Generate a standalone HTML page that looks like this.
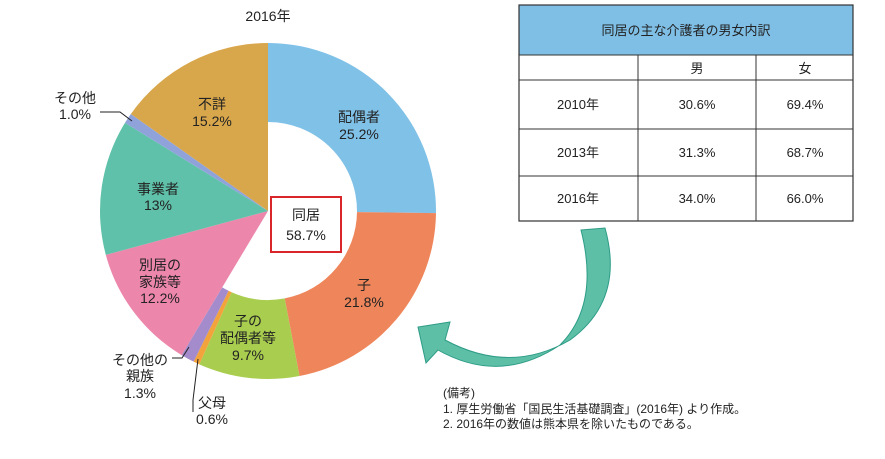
<!DOCTYPE html>
<html><head><meta charset="utf-8"><style>
body{margin:0;width:885px;height:459px;background:#fff;font-family:"Liberation Sans","Noto Sans CJK JP",sans-serif;overflow:hidden;position:relative}
.t{position:absolute;color:#222}
</style></head><body>
<svg width="885" height="459" style="position:absolute;left:0;top:0">
<g id="pie"></g>
<text x="268" y="21" font-size="14" text-anchor="middle" fill="#222">2016年</text>
<rect x="271" y="197" width="70" height="55" fill="#fff" stroke="#d9262b" stroke-width="2"/>
<text x="306" y="220" font-size="14" text-anchor="middle" fill="#222">同居</text>
<text x="306" y="240" font-size="14" text-anchor="middle" fill="#222">58.7%</text>
<g font-size="14" text-anchor="middle" fill="#222">
<text x="359" y="122">配偶者</text><text x="359" y="139">25.2%</text>
<text x="364" y="290">子</text><text x="364" y="307">21.8%</text>
<text x="248" y="326">子の</text><text x="248" y="343">配偶者等</text><text x="248" y="360">9.7%</text>
<text x="160" y="270">別居の</text><text x="160" y="287">家族等</text><text x="160" y="303">12.2%</text>
<text x="158" y="194">事業者</text><text x="158" y="210">13%</text>
<text x="212" y="109">不詳</text><text x="212" y="126">15.2%</text>
<text x="75" y="103">その他</text><text x="75" y="119">1.0%</text>
<text x="140" y="365">その他の</text><text x="140" y="381">親族</text><text x="140" y="398">1.3%</text>
<text x="212" y="408">父母</text><text x="212" y="424">0.6%</text>
</g>
<g fill="none" stroke="#222" stroke-width="1">
<path d="M100 112 L120 112 L132 121"/>
<path d="M172 358 L182 358 L189 347"/>
<path d="M193 412 L193 400 L198 359"/>
</g>
<path d="M581 230 L605 228 Q625 300 570 340 Q510 375 445 340 L450 322 L418 327 L426 363 L438 350 Q500 385 560 345 Q600 305 581 230 Z" fill="#5dbfa5" stroke="#2e9c88" stroke-width="1"/>
<g font-size="13" fill="#222" text-anchor="middle">
<rect x="519" y="5" width="334" height="50" fill="#7fbfe6"/>
<rect x="519" y="5" width="334" height="216" fill="none" stroke="#333" stroke-width="1.2"/>
<line x1="519" y1="55" x2="853" y2="55" stroke="#333"/>
<line x1="519" y1="80" x2="853" y2="80" stroke="#333"/>
<line x1="519" y1="129" x2="853" y2="129" stroke="#333"/>
<line x1="519" y1="176" x2="853" y2="176" stroke="#333"/>
<line x1="638" y1="55" x2="638" y2="221" stroke="#333"/>
<line x1="756" y1="55" x2="756" y2="221" stroke="#333"/>
<text x="686" y="35">同居の主な介護者の男女内訳</text>
<text x="697" y="73">男</text><text x="805" y="73">女</text>
<text x="578" y="109">2010年</text><text x="697" y="109">30.6%</text><text x="805" y="109">69.4%</text>
<text x="578" y="157">2013年</text><text x="697" y="157">31.3%</text><text x="805" y="157">68.7%</text>
<text x="578" y="203">2016年</text><text x="697" y="203">34.0%</text><text x="805" y="203">66.0%</text>
</g>
<g font-size="12" fill="#222">
<text x="443" y="397">(備考)</text>
<text x="443" y="413">1. 厚生労働省「国民生活基礎調査」(2016年) より作成。</text>
<text x="443" y="428">2. 2016年の数値は熊本県を除いたものである。</text>
</g>
</svg>
<script>
const categories=["配偶者","子","子の配偶者等","父母","その他の親族","別居の家族等","事業者","その他","不詳"];
const values=[25.2,21.8,9.7,0.6,1.3,12.2,13,1.0,15.2];
const donutFlags=[1,1,1,1,1,0,0,0,0];
const colors=["#80c1e8","#ef855a","#a9cd4f","#f2a33c","#a48bcb","#ec86ab","#5fc1a9","#8fa3da","#d9a74b"];
const cx=268,cy=211,R=168,r0=89;
const g=document.getElementById('pie');
const total=values.reduce((a,b)=>a+b,0);
let acc=0;
function pt(a,rr){return [cx+rr*Math.sin(a),cy-rr*Math.cos(a)];}
values.forEach((v,i)=>{
 const a0=acc/total*2*Math.PI;acc+=v;const a1=acc/total*2*Math.PI;
 const large=(a1-a0)>Math.PI?1:0;
 const p0=pt(a0,R),p1=pt(a1,R);let d;
 if(donutFlags[i]){const q1=pt(a1,r0),q0=pt(a0,r0);
  d=`M${p0} A${R} ${R} 0 ${large} 1 ${p1} L${q1} A${r0} ${r0} 0 ${large} 0 ${q0} Z`;}
 else d=`M${cx} ${cy} L${p0} A${R} ${R} 0 ${large} 1 ${p1} Z`;
 const p=document.createElementNS('http://www.w3.org/2000/svg','path');
 p.setAttribute('d',d);p.setAttribute('fill',colors[i]);
 
 
 g.appendChild(p);
});
</script>
</body></html>
